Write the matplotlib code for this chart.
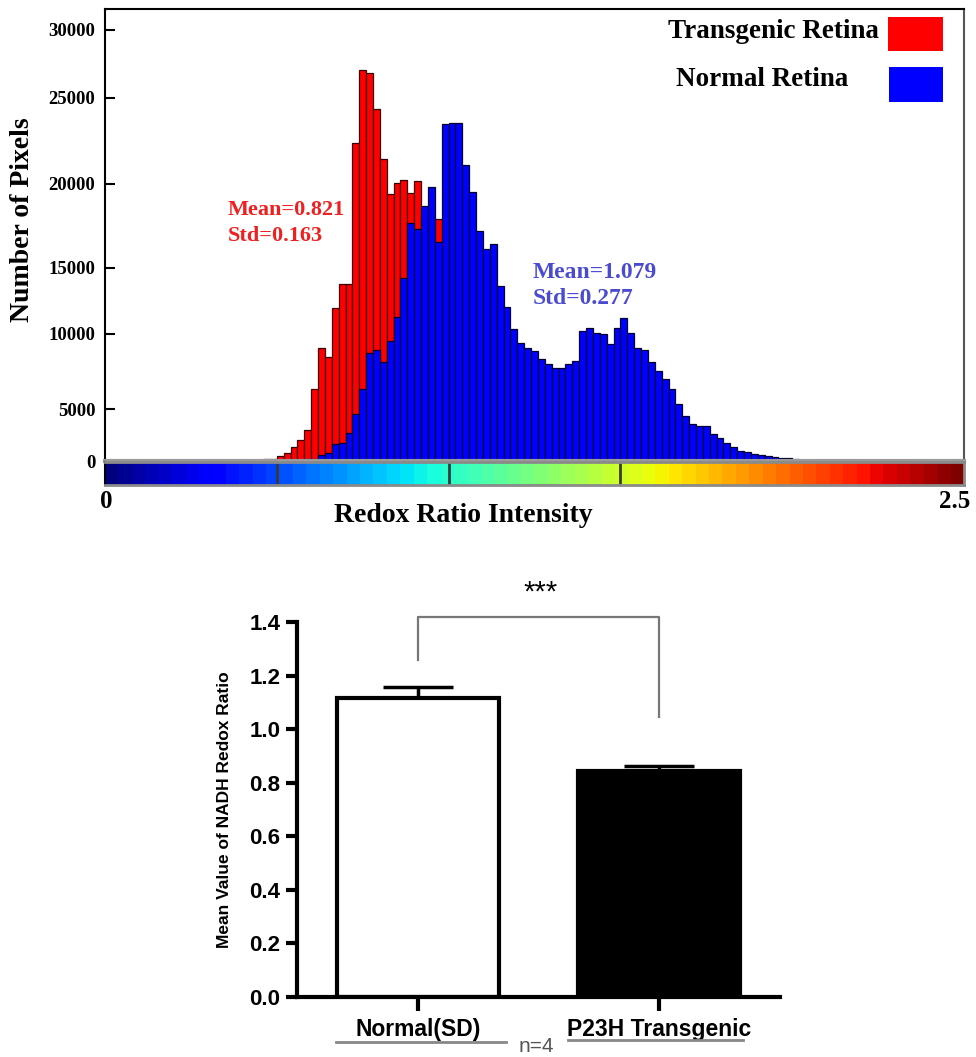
import numpy as np
import matplotlib.pyplot as plt
from matplotlib.patches import Rectangle

# ---- data: redox ratio histogram (bins of 0.02, first bin starts at 0.46)
bin_start = 0.46
bin_width = 0.02
transgenic_counts = [150, 200, 480, 770, 1350, 2020, 2980, 6330, 9070, 8470,
                     11970, 13790, 13790, 22380, 27060, 26840, 24360, 21450, 19400, 20060,
                     20230, 19460, 20170, 18000, 17500, 17920, 15000, 13000, 11000, 9000,
                     7500, 6000, 4800, 3800, 3000, 2300, 1700, 1200, 800, 500,
                     300, 150, 80]
normal_counts = [0, 0, 0, 30, 60, 100, 150, 200, 580, 770,
                 1630, 1730, 2690, 4520, 6330, 8730, 8930, 8130, 9530, 11290,
                 14240, 17680, 17320, 18690, 19820, 16550, 23490, 23550, 23550, 21100,
                 19520, 17200, 16130, 16430, 13640, 12050, 10380, 9400, 9070, 8870,
                 8330, 8000, 7730, 7730, 8000, 8200, 10230, 10450, 10080, 10000,
                 9330, 10450, 11210, 10080, 9070, 8930, 8130, 7530, 7000, 6330,
                 5330, 4330, 3560, 3370, 3370, 2600, 2210, 1730, 1350, 960,
                 870, 670, 580, 480, 380, 290, 290, 190, 60, 60,
                 60, 60, 60, 60]
y_ticks = [0, 5000, 10000, 15000, 20000, 25000, 30000]
colorbar_marks = [0.5, 1.0, 1.5]

# ---- data: mean NADH redox ratio
groups = ['Normal(SD)', 'P23H Transgenic']
group_means = [1.116, 0.844]
group_sem = [0.041, 0.018]
bar_ticks = [0.0, 0.2, 0.4, 0.6, 0.8, 1.0, 1.2, 1.4]

W, H = 976, 1057
fig = plt.figure(figsize=(W / 100, H / 100), dpi=100)
plt.rcParams['font.family'] = 'Liberation Serif'
plt.rcParams['font.weight'] = 'bold'


def fx(x):
    return x / W


def fy(y):
    return 1 - y / H


# the original y axis is not linear: tick spacing in pixels
scale_vals = [0, 5000, 10000, 15000, 20000, 25000, 30000, 40000]
scale_px = [0, 52, 127, 193, 277, 363, 431, 567]


def fwd(v):
    return np.interp(v, scale_vals, scale_px)


def inv(p):
    return np.interp(p, scale_px, scale_vals)


ax = fig.add_axes([fx(105), fy(461), fx(964) - fx(105), fy(9) - fy(461)])
ax.set_yscale('function', functions=(fwd, inv))
xs = bin_start + np.arange(len(transgenic_counts)) * bin_width
ax.bar(xs, transgenic_counts, width=bin_width, align='edge', color='#ff0000',
       edgecolor='#3a0000', linewidth=0.9)
xs = bin_start + np.arange(len(normal_counts)) * bin_width
ax.bar(xs, normal_counts, width=bin_width, align='edge', color='#0000ff',
       edgecolor='#000030', linewidth=0.9)
ax.set_xlim(0, 2.5)
ax.set_ylim(0, inv(452))
ax.set_xticks([])
ax.set_yticks(y_ticks)
ax.set_yticklabels([str(t) for t in y_ticks])
ax.tick_params(axis='y', direction='in', length=7, width=1.5, pad=7, labelsize=13.5)
for s in ['top', 'right', 'left']:
    ax.spines[s].set_linewidth(1.5)
ax.spines['right'].set_color('#555555')
ax.spines['bottom'].set_color('#9a9a9a')
ax.spines['bottom'].set_linewidth(3)

ax.text(fx(228), fy(210), 'Mean=0.821', transform=fig.transFigure, color='#f02020',
        fontsize=16, va='center', ha='left')
ax.text(fx(228), fy(236), 'Std=0.163', transform=fig.transFigure, color='#f02020',
        fontsize=16, va='center', ha='left')
ax.text(fx(533), fy(273), 'Mean=1.079', transform=fig.transFigure, color='#4b4bd2',
        fontsize=17, va='center', ha='left')
ax.text(fx(533), fy(298), 'Std=0.277', transform=fig.transFigure, color='#4b4bd2',
        fontsize=17, va='center', ha='left')

# legend drawn by hand, as in the figure
fig.text(fx(668), fy(32), 'Transgenic Retina', fontsize=19.5, va='center', ha='left')
fig.text(fx(676), fy(80), 'Normal Retina', fontsize=19.5, va='center', ha='left')
fig.add_artist(Rectangle((fx(888), fy(51)), fx(55), 34 / H, transform=fig.transFigure,
                         facecolor='#ff0000', edgecolor='none'))
fig.add_artist(Rectangle((fx(889), fy(102)), fx(54), 35 / H, transform=fig.transFigure,
                         facecolor='#0000ff', edgecolor='none'))

fig.text(fx(23), fy(220), 'Number of Pixels', fontsize=20, rotation=90,
         va='center', ha='center')

# colour bar under the histogram
cax = fig.add_axes([fx(105), fy(485), fx(964) - fx(105), fy(462) - fy(485)])
cax.imshow(np.linspace(0, 2.5, 256)[None, :], extent=(0, 2.5, 0, 1), aspect='auto',
           cmap=plt.get_cmap('jet', 64))
for m in colorbar_marks:
    cax.axvline(m, color='#3a3a3a', lw=2)
cax.set_xlim(0, 2.5)
cax.set_xticks([])
cax.set_yticks([])
for s in cax.spines.values():
    s.set_color('#8a8a8a')
    s.set_linewidth(2)
cax.spines['left'].set_color('black')
cax.spines['left'].set_linewidth(1.5)

fig.text(fx(106), fy(501), '0', fontsize=18, va='center', ha='center')
fig.text(fx(955), fy(501), '2.5', fontsize=18, va='center', ha='center')
fig.text(fx(463), fy(516), 'Redox Ratio Intensity', fontsize=20, va='center', ha='center')

# ---- bar chart
sans = 'Liberation Sans'
ax2 = fig.add_axes([fx(297), fy(997), fx(780) - fx(297), fy(622) - fy(997)])
pos = np.arange(len(groups))
ax2.bar(pos, group_means, width=0.67, color=['white', 'black'], edgecolor='black',
        linewidth=3, zorder=2)
ax2.errorbar(pos, group_means, yerr=[np.zeros(len(group_sem)), group_sem], fmt='none',
             ecolor='black', elinewidth=2.5, capsize=25, capthick=2.5, zorder=1)
ax2.set_xlim(-0.5, 1.5)
ax2.set_ylim(0, 1.4)
ax2.set_yticks(bar_ticks)
ax2.set_yticklabels(['%.1f' % t for t in bar_ticks], fontfamily=sans, fontweight='bold',
                    fontsize=16)
ax2.set_xticks(pos)
ax2.set_xticklabels(groups, fontfamily=sans, fontweight='bold', fontsize=16.5)
ax2.tick_params(axis='y', direction='out', length=8, width=3, pad=4)
ax2.tick_params(axis='x', direction='out', length=10, width=3, pad=5)
for s in ['top', 'right']:
    ax2.spines[s].set_visible(False)
for s in ['left', 'bottom']:
    ax2.spines[s].set_linewidth(3)
ax2.set_ylabel('Mean Value of NADH Redox Ratio', fontfamily=sans, fontweight='bold',
               fontsize=12.5)
ax2.yaxis.set_label_coords((fx(232) - fx(297)) / (fx(780) - fx(297)), 0.5)

# significance bracket
ax2.plot([0, 0, 1, 1], [1.258, 1.418, 1.418, 1.045], color='#777777', lw=1.6,
         clip_on=False)
ax2.text(0.51, 1.51, '***', fontfamily=sans, fontweight='normal', fontsize=21,
         ha='center', va='center')

# n=4 underline
fig.text(fx(536), fy(1046), 'n=4', fontfamily=sans, fontweight='normal', fontsize=15,
         color='#555555', ha='center', va='center')
fig.add_artist(plt.Line2D([fx(336), fx(506)], [fy(1042), fy(1042)], color='#888888', lw=2))
fig.add_artist(plt.Line2D([fx(568), fx(743)], [fy(1040), fy(1040)], color='#888888', lw=2))

fig.savefig('out.png', dpi=100)
